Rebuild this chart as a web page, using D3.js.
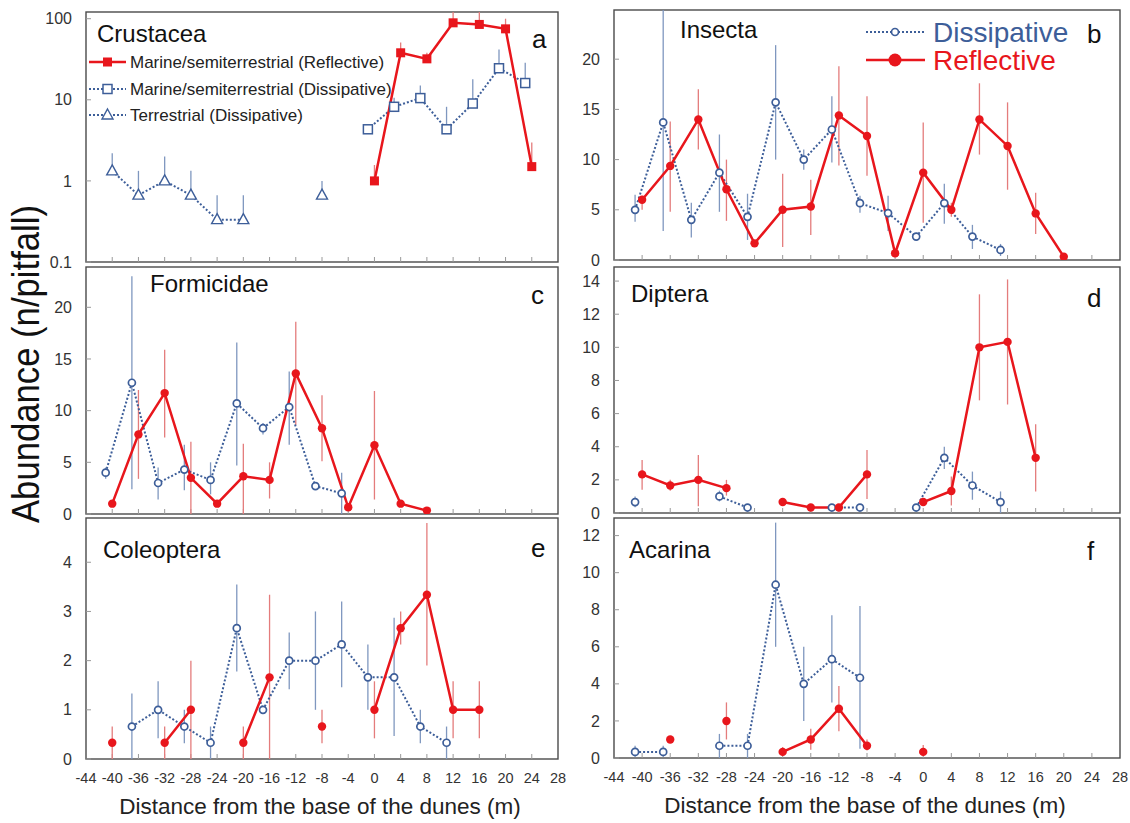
<!DOCTYPE html>
<html><head><meta charset="utf-8">
<script src="https://cdn.jsdelivr.net/npm/d3@7"></script>
<style>body{margin:0;background:#fff;} text{font-family:"Liberation Sans", Arial, sans-serif;}</style>
</head><body><svg id="c" width="1130" height="823"></svg>
<script>
// ---------- data ----------
const xTickLabels = [-44,-40,-36,-32,-28,-24,-20,-16,-12,-8,-4,0,4,8,12,16,20,24,28];
const reflX = [-40,-36,-32,-28,-24,-20,-16,-12,-8,-4,0,4,8,12,16,20,24];
const dissX = [-41,-37,-33,-29,-25,-21,-17,-13,-9,-5,-1,3,7,11,15,19,23];

// a Crustacea (log scale, upper error bars only)
const crusTerrX = [-40,-36,-32,-28,-24,-20,-16,-12,-8];
const crusTerr = [1.33,0.667,1.0,0.667,0.333,0.333,null,null,0.667];
const crusTerrHi = [2.2,1.33,2.0,1.33,0.667,0.667,null,null,1.0];
const crusMarDissX = [-1,3,7,11,15,19,23];
const crusMarDiss = [4.33,8.2,10.5,4.33,9.0,24.5,16.1];
const crusMarDissHi = [null,10.6,15.0,8.2,17.9,41.7,28.6];
const crusMarReflX = [0,4,8,12,16,20,24];
const crusMarRefl = [1.0,38,32,89,85,75,1.5];
const crusMarReflHi = [1.57,51,38,125,125,100,2.97];

// b Insecta
const insRefl   = [6.0,9.37,14.0,7.05,1.66,5.0,5.33,14.4,12.35,0.67,8.7,5.0,14.0,11.36,4.64,0.33,null];
const insReflLo = [5.0,4.8,11.0,3.9,null,1.3,2.5,9.4,8.4,null,3.7,4.3,10.5,7.0,2.6,null,null];
const insReflHi = [6.4,13.8,17.0,10.0,null,8.6,8.0,19.3,16.3,null,13.7,5.7,17.6,15.7,6.7,null,null];
const insDiss   = [5.0,13.7,4.0,8.7,4.3,15.7,10.0,13.0,5.66,4.67,2.33,5.67,2.33,1.0,null,null,null];
const insDissLo = [3.8,2.9,2.25,4.8,2.0,10.0,9.0,9.7,4.7,2.9,null,3.6,1.1,0.4,null,null,null];
const insDissHi = [6.5,24.9,5.7,12.5,6.6,21.4,11.0,16.3,6.4,6.4,null,7.6,3.5,1.6,null,null,null];

// c Formicidae
const forRefl   = [1.0,7.7,11.7,3.5,1.0,3.65,3.3,13.6,8.3,0.65,6.65,1.0,0.33,null,null,null,null];
const forReflLo = [null,3.4,7.4,0,null,0,1.5,8.6,5.1,null,1.4,null,null,null,null,null,null];
const forReflHi = [null,12.0,15.9,7.0,null,6.8,5.0,18.6,11.5,null,11.9,null,null,null,null,null,null];
const forDiss   = [4.0,12.7,3.0,4.3,3.3,10.7,8.3,10.35,2.7,2.0,null,null,null,null,null,null,null];
const forDissLo = [3.4,2.4,1.4,2.3,1.9,4.7,7.7,6.7,null,0,null,null,null,null,null,null,null];
const forDissHi = [4.5,23.0,4.5,6.7,5.0,16.6,8.8,13.8,null,4.0,null,null,null,null,null,null,null];

// d Diptera
const dipRefl   = [2.33,1.66,2.0,1.5,null,0.66,0.33,0.33,2.33,null,0.66,1.33,10.0,10.33,3.33,null,null];
const dipReflLo = [1.4,1.35,0.4,1.05,null,null,null,null,0.85,null,null,0.45,6.8,6.55,1.3,null,null];
const dipReflHi = [3.2,2.0,3.5,2.0,null,null,null,null,3.8,null,null,2.2,13.2,14.1,5.35,null,null];
const dipDiss   = [0.66,null,null,1.0,0.33,null,null,0.33,0.33,null,0.33,3.33,1.66,0.66,null,null,null];
const dipDissLo = [0.35,null,null,0.7,null,null,null,null,null,null,null,2.66,0.8,0,null,null,null];
const dipDissHi = [1.0,null,null,1.35,null,null,null,null,null,null,null,4.0,2.5,1.3,null,null,null];

// e Coleoptera
const colRefl   = [0.33,null,0.33,1.0,null,0.33,1.66,null,0.66,null,1.0,2.66,3.34,1.0,1.0,null,null];
const colReflLo = [0,null,0,0,null,0,0,null,0.32,null,0.42,2.33,1.9,0.42,0.42,null,null];
const colReflHi = [0.66,null,0.66,2.0,null,0.66,3.34,null,1.0,null,1.58,3.0,4.8,1.58,1.58,null,null];
const colDiss   = [null,0.66,1.0,0.66,0.33,2.66,1.0,2.0,2.0,2.33,1.66,1.66,0.66,0.33,null,null,null];
const colDissLo = [null,0,0.42,0.32,0,1.78,null,1.42,1.0,1.46,1.0,0.47,0.32,0,null,null,null];
const colDissHi = [null,1.33,1.58,1.0,0.66,3.55,null,2.57,3.0,3.2,2.33,2.87,1.0,0.66,null,null,null];

// f Acarina
const acaRefl   = [null,1.0,null,2.0,null,0.33,1.0,2.66,0.66,null,0.33,null,null,null,null,null,null];
const acaReflLo = [null,null,null,1.0,null,0.1,0.45,1.44,0.4,null,0.1,null,null,null,null,null,null];
const acaReflHi = [null,null,null,3.0,null,0.6,1.58,3.88,1.0,null,0.7,null,null,null,null,null,null];
const acaDiss   = [0.33,0.33,null,0.66,0.66,9.35,4.0,5.33,4.33,null,null,null,null,null,null,null,null];
const acaDissLo = [0.05,0.05,null,0,0,6.0,2.0,3.0,0.5,null,null,null,null,null,null,null,null];
const acaDissHi = [0.66,0.66,null,1.3,1.3,12.7,6.0,7.7,8.2,null,null,null,null,null,null,null,null];

const yTicksLog = [0.1,1,10,100];
const yTicks25 = [0,5,10,15,20];
const yTicks14 = [0,2,4,6,8,10,12,14];
const yTicks4 = [0,1,2,3,4];
const yTicks12 = [0,2,4,6,8,10,12];

// ---------- styles ----------
const RED = "#e8161c", RED_ERR = "#e47c7c";
const BLUE = "#3d5e99", BLUE_ERR = "#7f97bf";
const svg = d3.select("#c");

const cols = {L:[86,558], R:[614,1120]};
const rows = {a:[12,262], b:[10,260], c:[267,514], d:[267,513], e:[518,759], f:[518,758]};

function zip(xs, ys, lo, hi){ return xs.map((x,i)=>({x, y: ys[i], lo: lo? lo[i]:null, hi: hi? hi[i]:null})); }

let clipId = 0;
function makePanel(o){
  const [x0,x1] = o.col, [y0,y1] = o.row;
  const x = d3.scaleLinear().domain([-44,28]).range([x0,x1]);
  const y = o.log ? d3.scaleLog().domain(o.ydom).range([y1,y0]) : d3.scaleLinear().domain(o.ydom).range([y1,y0]);
  const g = svg.append("g");
  const cid = "clip"+(clipId++);
  svg.append("clipPath").attr("id",cid).append("rect").attr("x",x0).attr("y",y0).attr("width",x1-x0).attr("height",y1-y0);
  g.append("rect").attr("x",x0).attr("y",y0).attr("width",x1-x0).attr("height",y1-y0)
    .attr("fill","#fff").attr("stroke","#4a4a4a").attr("stroke-width",1.4);
  // x ticks
  g.selectAll(".xt").data(xTickLabels.slice(1,-1)).join("line")
    .attr("x1",d=>x(d)).attr("x2",d=>x(d)).attr("y1",y1).attr("y2",y1-5)
    .attr("stroke","#999").attr("stroke-width",1);
  // y ticks
  g.selectAll(".yt").data(o.yticks).join("line")
    .attr("x1",x0).attr("x2",x0+5).attr("y1",d=>y(d)).attr("y2",d=>y(d))
    .attr("stroke","#999").attr("stroke-width",1);
  g.selectAll(".yl").data(o.yticks).join("text")
    .attr("x",x0-14).attr("y",d=>y(d)).attr("dy","0.35em").attr("text-anchor","end")
    .attr("font-size",16).attr("fill","#333").text(d=>d);
  if (o.xlabels){
    g.selectAll(".xl").data(xTickLabels).join("text")
      .attr("x",d=>x(d)).attr("y",y1+24).attr("text-anchor","middle")
      .attr("font-size",14.5).attr("fill","#333").text(d=>d);
    g.append("text").attr("x",(x0+x1)/2 - 2).attr("y",y1+55).attr("text-anchor","middle")
      .attr("font-size",22.5).attr("fill","#222").text("Distance from the base of the dunes (m)");
  }
  const pg = g.append("g").attr("clip-path",`url(#${cid})`);
  // error bars
  o.series.forEach(s=>{
    pg.selectAll(null).data(s.data.filter(d=>d.y!=null && (d.hi!=null || d.lo!=null))).join("line")
      .attr("x1",d=>x(d.x)).attr("x2",d=>x(d.x))
      .attr("y1",d=>y(d.lo!=null? (o.log? Math.max(d.lo,0.1):d.lo) : d.y))
      .attr("y2",d=>y(d.hi!=null? d.hi : d.y))
      .attr("stroke",s.errColor).attr("stroke-width",1.3);
  });
  // lines
  o.series.forEach(s=>{
    const line = d3.line().defined(d=>d.y!=null).x(d=>x(d.x)).y(d=>y(d.y));
    pg.append("path").attr("d",line(s.data)).attr("fill","none")
      .attr("stroke",s.color).attr("stroke-width",s.dashed?2:2.5)
      .attr("stroke-dasharray",s.dashed?"2,2":null);
  });
  // markers
  o.series.forEach(s=>{
    const pts = s.data.filter(d=>d.y!=null);
    drawMarkers(pg, pts.map(d=>[x(d.x),y(d.y)]), s);
  });
  // labels
  g.append("text").attr("x",o.title[0]).attr("y",o.title[1]).attr("font-size",24).attr("fill","#111").text(o.titleText);
  g.append("text").attr("x",o.letter[0]).attr("y",o.letter[1]).attr("font-size",26).attr("fill","#111").text(o.letterText);
  return {g,x,y};
}

function drawMarkers(g, pts, s){
  pts.forEach(([px,py])=>drawMarker(g,px,py,s.marker,s.color));
}
function drawMarker(g, px, py, m, color){
  if (m==="circleOpen") g.append("circle").attr("cx",px).attr("cy",py).attr("r",3.5).attr("fill","#fff").attr("stroke",color).attr("stroke-width",1.7);
  else if (m==="circle") g.append("circle").attr("cx",px).attr("cy",py).attr("r",4.2).attr("fill",color);
  else if (m==="bigCircle") g.append("circle").attr("cx",px).attr("cy",py).attr("r",6.5).attr("fill",color);
  else if (m==="square") g.append("rect").attr("x",px-4.5).attr("y",py-4.5).attr("width",9).attr("height",9).attr("fill",color);
  else if (m==="squareOpen") g.append("rect").attr("x",px-4.5).attr("y",py-4.5).attr("width",9).attr("height",9).attr("fill","#fff").attr("stroke",color).attr("stroke-width",1.5);
  else if (m==="triOpen") g.append("path").attr("d",`M${px},${py-6}L${px+5.5},${py+4}L${px-5.5},${py+4}Z`).attr("fill","#fff").attr("stroke",color).attr("stroke-width",1.4);
}

function stdSeries(refl, reflLo, reflHi, diss, dissLo, dissHi){
  return [
    {data: zip(dissX, diss, dissLo, dissHi), color: BLUE, errColor: BLUE_ERR, dashed: true, marker: "circleOpen"},
    {data: zip(reflX, refl, reflLo, reflHi), color: RED, errColor: RED_ERR, dashed: false, marker: "circle"}
  ];
}

// Panel a
makePanel({col: cols.L, row: rows.a, log: true, ydom: [0.1,121], yticks: yTicksLog,
  series: [
    {data: zip(crusTerrX, crusTerr, null, crusTerrHi), color: BLUE, errColor: BLUE_ERR, dashed: true, marker: "triOpen"},
    {data: zip(crusMarDissX, crusMarDiss, null, crusMarDissHi), color: BLUE, errColor: BLUE_ERR, dashed: true, marker: "squareOpen"},
    {data: zip(crusMarReflX, crusMarRefl, null, crusMarReflHi), color: RED, errColor: RED_ERR, dashed: false, marker: "square"}
  ],
  title: [97,42], titleText: "Crustacea", letter: [532,48], letterText: "a"});

// Panel b
makePanel({col: cols.R, row: rows.b, ydom: [0,24.9], yticks: yTicks25,
  series: stdSeries(insRefl, insReflLo, insReflHi, insDiss, insDissLo, insDissHi),
  title: [680,38], titleText: "Insecta", letter: [1087,43], letterText: "b"});
// Panel c
makePanel({col: cols.L, row: rows.c, ydom: [0,23.9], yticks: yTicks25,
  series: stdSeries(forRefl, forReflLo, forReflHi, forDiss, forDissLo, forDissHi),
  title: [150,292], titleText: "Formicidae", letter: [531,304], letterText: "c"});
// Panel d
makePanel({col: cols.R, row: rows.d, ydom: [0,14.85], yticks: yTicks14,
  series: stdSeries(dipRefl, dipReflLo, dipReflHi, dipDiss, dipDissLo, dipDissHi),
  title: [631,302], titleText: "Diptera", letter: [1087,307], letterText: "d"});
// Panel e
makePanel({col: cols.L, row: rows.e, ydom: [0,4.9], yticks: yTicks4, xlabels: true,
  series: stdSeries(colRefl, colReflLo, colReflHi, colDiss, colDissLo, colDissHi),
  title: [103,558], titleText: "Coleoptera", letter: [531,557], letterText: "e"});
// Panel f
makePanel({col: cols.R, row: rows.f, ydom: [0,12.95], yticks: yTicks12, xlabels: true,
  series: stdSeries(acaRefl, acaReflLo, acaReflHi, acaDiss, acaDissLo, acaDissHi),
  title: [629,558], titleText: "Acarina", letter: [1087,560], letterText: "f"});

// Legend panel a
const legA = [
  {y: 62, color: RED, dashed: false, marker: "square", text: "Marine/semiterrestrial (Reflective)"},
  {y: 89, color: BLUE, dashed: true, marker: "squareOpen", text: "Marine/semiterrestrial (Dissipative)"},
  {y: 115, color: BLUE, dashed: true, marker: "triOpen", text: "Terrestrial (Dissipative)"}
];
const la = svg.append("g");
legA.forEach(l=>{
  la.append("line").attr("x1",89).attr("x2",126).attr("y1",l.y).attr("y2",l.y)
    .attr("stroke",l.color).attr("stroke-width",l.dashed?2:2.5).attr("stroke-dasharray",l.dashed?"2,2":null);
  drawMarker(la,107.5,l.y,l.marker,l.color);
  la.append("text").attr("x",130).attr("y",l.y).attr("dy","0.35em").attr("font-size",17).attr("fill","#222").text(l.text);
});
// Legend panel b
const legB = [
  {y: 32, color: BLUE, dashed: true, marker: "circleOpen", text: "Dissipative"},
  {y: 60, color: RED, dashed: false, marker: "bigCircle", text: "Reflective"}
];
const lb = svg.append("g");
legB.forEach(l=>{
  lb.append("line").attr("x1",866).attr("x2",925).attr("y1",l.y).attr("y2",l.y)
    .attr("stroke",l.color).attr("stroke-width",l.dashed?2:2.5).attr("stroke-dasharray",l.dashed?"2,2":null);
  drawMarker(lb,895,l.y,l.marker,l.color);
  lb.append("text").attr("x",933).attr("y",l.y).attr("dy","0.35em").attr("font-size",28).attr("fill",l.color).text(l.text);
});

// Y title
svg.append("text").attr("transform","translate(39,364) rotate(-90)").attr("text-anchor","middle")
  .attr("font-size",38).attr("textLength",318).attr("lengthAdjust","spacingAndGlyphs")
  .attr("fill","#111").text("Abundance (n/pitfall)");
</script></body></html>
